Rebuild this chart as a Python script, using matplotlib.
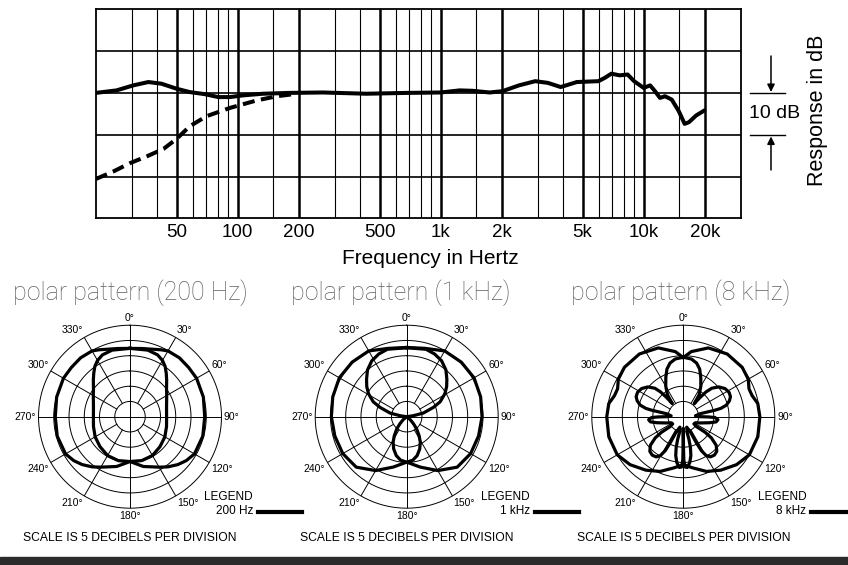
import numpy as np
import matplotlib
matplotlib.use("Agg")
import matplotlib.pyplot as plt
from matplotlib.lines import Line2D
from matplotlib.patches import Rectangle

# frequency response (dB, relative)
SOLID_FREQ = [20, 25.3, 30.6, 36.3, 42.1, 50, 58, 68.9, 80.2, 91.5, 106, 133, 180, 263, 430, 680,
              1000, 1240, 1440, 1740, 2010, 2430, 2920, 3370, 3900, 4680, 5980, 6430, 6930, 7610,
              8330, 8970, 9990, 10750, 11370, 12020, 12730, 13740, 14890, 15900, 16710, 18120, 19900]
SOLID_DB = [0, 0.6, 1.8, 2.6, 2.2, 1.0, 0.2, -0.3, -1.0, -1.0, -0.6, -0.2, 0, 0.1, -0.2, 0,
            0.1, 0.6, 0.5, 0.1, 0.4, 1.8, 2.8, 2.4, 1.4, 2.6, 2.8, 3.6, 4.6, 4.2,
            4.4, 2.8, 1.2, 1.8, 0.4, -1.2, -0.8, -1.6, -4.4, -7.4, -7.0, -5.4, -4.2]
DASH_FREQ = [20, 24.4, 29.5, 35.6, 43.1, 50, 58, 70, 91.5, 124, 156, 196]
DASH_DB = [-20.6, -18.8, -16.8, -15.2, -13.4, -11.0, -8.0, -5.6, -3.6, -1.8, -0.8, -0.2]

FREQ_TICKS = [50, 100, 200, 500, 1000, 2000, 5000, 10000, 20000]
FREQ_LABELS = ["50", "100", "200", "500", "1k", "2k", "5k", "10k", "20k"]
FREQ_MINOR = [30, 40, 60, 70, 80, 90, 150, 300, 400, 600, 700, 800, 900,
              1500, 3000, 4000, 6000, 7000, 8000, 9000, 15000]
DB_LINES = [-20, -10, 0, 10]

# polar patterns: right half (0..180 deg, clockwise), mirrored for the left half
P200_OUT_DEG = [0, 10, 20, 25, 30, 40, 50, 60, 75, 90, 105, 120, 128, 135, 143, 150, 165, 180]
P200_OUT_DB = [-7.6, -7.3, -6.5, -5.8, -5.1, -4.8, -4.9, -4.8, -5.1, -5.5, -5.3, -5.6, -6.6, -7.8,
               -9.4, -10.9, -13.1, -15.3]
P200_IN_DEG = [0, 15, 24, 30, 35, 40, 45, 52, 60, 75, 90, 105, 120, 135, 150, 165, 180]
P200_IN_DB = [-7.6, -7.4, -7.8, -8.7, -9.9, -11.5, -13.0, -14.8, -16.1, -17.6, -18.0, -17.6, -16.8,
              -16.1, -15.3, -15.1, -15.3]

P1K_OUT_DEG = [0, 15, 30, 45, 60, 75, 90, 105, 120, 135, 150, 165, 180]
P1K_OUT_DB = [-7.3, -6.8, -5.1, -4.7, -4.5, -4.9, -5.3, -5.6, -5.8, -6.6, -9.6, -12.9, -15.1]
P1K_IN_DEG = [0, 16, 24, 32, 40, 47, 53, 59, 66, 70.7, 77.6, 81.5, 86, 125, 130, 136, 141, 147,
              152, 158, 165, 172, 180]
P1K_IN_DB = [-7.4, -7.0, -7.5, -8.4, -10.0, -12.0, -13.6, -15.4, -18.0, -20.7, -24.4, -27.8, -30,
             -30, -28.5, -26.8, -24.8, -22.5, -20.5, -18.6, -16.8, -15.6, -15.1]

P8K_OUT_DEG = [0, 7, 20, 35, 50, 60, 67, 73, 80, 90, 105, 120, 132, 145, 157, 170, 180]
P8K_OUT_DB = [-10.6, -8.5, -6.0, -4.9, -4.8, -5.4, -6.6, -6.4, -5.2, -4.9, -4.7, -5.0, -6.5, -8.6,
              -10.5, -13.0, -14.3]
P8K_IN_DEG = [0, 8, 14, 19, 24, 30, 36, 40,
              41, 42.5, 45, 50, 56, 62, 67, 71, 75, 77.5, 78.5, 79, 80, 86,
              90, 90.5, 91.5, 95, 99, 103, 110, 117, 124,
              127, 125.5, 127, 131, 136, 141, 146, 149.5, 152, 153.5, 155, 162,
              166.5, 166, 167, 169, 172, 175.5, 178, 179.3, 179.6, 179.8, 180]
P8K_IN_DB = [-10.5, -10.9, -11.9, -13.5, -15.9, -18.5, -21.2, -24.4,
             -21.8, -19.0, -16.8, -14.8, -13.5, -13.0, -13.2, -14.0, -15.4, -17.4, -19.6, -22.3, -24.5, -26.0,
             -24.5, -21.8, -19.6, -18.6, -19.1, -21.2, -24.0, -25.6, -25.8,
             -24.6, -21.2, -18.5, -15.7, -14.2, -13.8, -14.1, -15.2, -17.4, -20.7, -24.5, -26.4,
             -24.5, -22.3, -19.6, -17.0, -14.8, -13.3, -13.5, -15.7, -19.0, -23.4, -26.2]

PANELS = [
    ("polar pattern (200 Hz)", "200 Hz", P200_OUT_DEG, P200_OUT_DB, P200_IN_DEG, P200_IN_DB),
    ("polar pattern (1 kHz)", "1 kHz", P1K_OUT_DEG, P1K_OUT_DB, P1K_IN_DEG, P1K_IN_DB),
    ("polar pattern (8 kHz)", "8 kHz", P8K_OUT_DEG, P8K_OUT_DB, P8K_IN_DEG, P8K_IN_DB),
]
RINGS = [-25, -20, -15, -10, -5, 0]

W, H = 848, 565
FONT = "Liberation Sans"


def fx(x):
    return x / W


def fy(y):
    return 1 - y / H


def mirror(deg, db):
    full_deg = list(deg) + [360 - d for d in reversed(deg)]
    full_db = list(db) + list(reversed(db))
    return np.radians(full_deg), np.array(full_db)


def response_chart(fig):
    ax = fig.add_axes([fx(95.8), fy(218.3), (740.6 - 95.8) / W, (218.3 - 9.3) / H])
    ax.set_xscale("log")
    ax.set_xlim(20, 30000)
    ax.set_ylim(-30, 20)
    for f in FREQ_MINOR:
        ax.axvline(f, color="k", lw=0.8, zorder=1)
    for f in FREQ_TICKS:
        ax.axvline(f, color="k", lw=1.8, zorder=1)
    for d in DB_LINES:
        ax.axhline(d, color="k", lw=1.2, zorder=1)
    for s in ax.spines.values():
        s.set_linewidth(1.3)

    ax.plot(DASH_FREQ, DASH_DB, color="k", lw=2.9, dashes=(3, 1.6), zorder=3)
    ax.plot(SOLID_FREQ, SOLID_DB, color="k", lw=2.9, solid_capstyle="round", zorder=4)

    ax.set_xticks(FREQ_TICKS)
    ax.set_xticklabels(FREQ_LABELS, fontsize=13.5, family=FONT)
    ax.xaxis.set_minor_locator(matplotlib.ticker.NullLocator())
    ax.tick_params(axis="x", length=0, pad=4)
    ax.set_yticks([])

    fig.text(fx(430), fy(259), "Frequency in Hertz", ha="center", va="center", fontsize=15, family=FONT)
    fig.text(fx(775), fy(114), "10 dB", ha="center", va="center", fontsize=14, family=FONT)
    fig.text(fx(818), fy(110), "Response in dB", ha="center", va="center", rotation=90, fontsize=15.5, family=FONT)
    for y in (93.3, 135):
        fig.add_artist(Line2D([fx(750), fx(785)], [fy(y), fy(y)], color="k", lw=1.0))
    arrow = dict(arrowstyle="-|>", color="k", lw=1.1, mutation_scale=11, shrinkA=0, shrinkB=0)
    ax.annotate("", xy=(fx(771), fy(92)), xytext=(fx(771), fy(56)), xycoords="figure fraction",
                textcoords="figure fraction", arrowprops=arrow)
    ax.annotate("", xy=(fx(771), fy(136.5)), xytext=(fx(771), fy(170)), xycoords="figure fraction",
                textcoords="figure fraction", arrowprops=arrow)


def polar_panel(fig, cx, title_x, panel):
    title, legend, out_deg, out_db, in_deg, in_db = panel
    cy, r = 416.7, 91.5
    ax = fig.add_axes([fx(cx - r), fy(cy + r), 2 * r / W, 2 * r / H], projection="polar")
    ax.set_theta_zero_location("N")
    ax.set_theta_direction(-1)
    ax.set_ylim(-30, 0)
    ax.grid(False)
    ax.set_xticks([])
    ax.set_yticks([])
    ax.spines["polar"].set_visible(False)
    ax.patch.set_alpha(0)

    t = np.radians(np.linspace(0, 360, 361))
    for ring in RINGS:
        ax.plot(t, np.full_like(t, ring), color="k", lw=0.7, clip_on=False)
    for a in range(0, 360, 30):
        start = -30 if a % 90 == 0 else -25
        ax.plot([np.radians(a)] * 2, [start, 0], color="k", lw=0.7)
        s, c = np.sin(np.radians(a)), np.cos(np.radians(a))
        ha = "left" if s > 0.1 else ("right" if s < -0.1 else "center")
        va = "bottom" if c > 0.1 else ("top" if c < -0.1 else "center")
        ax.text(np.radians(a), 0.8, "%d°" % a, ha=ha, va=va, fontsize=7.5, family=FONT, clip_on=False)

    th, db = mirror(out_deg, out_db)
    ax.plot(th, db, color="k", lw=2.3, clip_on=False)
    th, db = mirror(in_deg, in_db)
    ax.plot(th, db, color="k", lw=2.3, clip_on=False)

    fig.text(fx(title_x), fy(293), title, ha="center", va="center", fontsize=18,
             color="#5e5e5e", family="Roboto", fontweight="light")
    fig.text(fx(cx + 123), fy(497), "LEGEND", ha="right", va="center", fontsize=8.5, family=FONT)
    fig.text(fx(cx + 123), fy(511), legend, ha="right", va="center", fontsize=8.5, family=FONT)
    fig.add_artist(Line2D([fx(cx + 128), fx(cx + 172)], [fy(512), fy(512)], color="k", lw=3))
    fig.text(fx(cx), fy(538), "SCALE IS 5 DECIBELS PER DIVISION", ha="center", va="center",
             fontsize=8.7, family=FONT)


def main():
    fig = plt.figure(figsize=(W / 100, H / 100), dpi=100)
    response_chart(fig)
    for cx, tx, panel in zip([130, 406.7, 683.3], [130, 401, 681], PANELS):
        polar_panel(fig, cx, tx, panel)
    fig.add_artist(Rectangle((0, 0), 1, 8 / H, transform=fig.transFigure, color="#2b2b2b"))
    fig.savefig("out.png", dpi=100)


if __name__ == '__main__':
    main()
